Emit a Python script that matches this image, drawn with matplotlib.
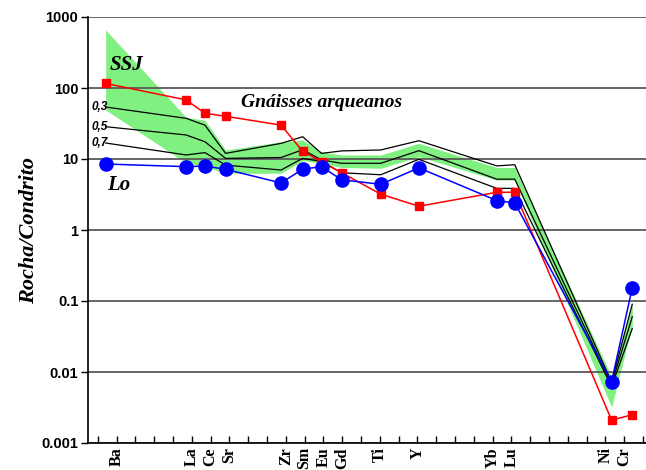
"""Spider diagram: chondrite-normalised trace elements, SSJ vs Lo vs Archean gneiss models."""

import matplotlib

matplotlib.use("Agg")
import matplotlib.pyplot as plt

ELEMENTS = ["Ba", "La", "Ce", "Sr", "Zr", "Sm", "Eu", "Gd", "Ti", "Y", "Yb", "Lu", "Ni", "Cr"]
# tick slot used for each element label, and where the points sit on the same axis
LABEL_SLOTS = [1, 5, 6, 7, 10, 11, 12, 13, 15, 17, 21, 22, 27, 28]
POINT_POS = [0.42, 4.7, 5.7, 6.8, 9.75, 10.9, 11.9, 12.97, 15.05, 17.08, 21.22, 22.18, 27.33, 28.43]

SSJ = [116, 68, 44, 40, 30, 12.8, 9.2, 6.4, 3.2, 2.16, 3.4, 3.4, 0.0021, 0.0025]
LO = [8.5, 7.8, 7.96, 7.16, 4.6, 7.2, 7.8, 5.1, 4.4, 7.5, 2.6, 2.4, 0.0073, 0.154]

# Archean gneiss field (upper / lower envelope)
GNEISS_UPPER = [656, 38.7, 35, 13.4, 17.5, 18.5, 12.6, 11.4, 11.4, 16.6, 7.6, 7.6, 0.0086, 0.09]
GNEISS_LOWER = [49, 8.8, 7.8, 6.3, 6.3, 9.5, 8.7, 7.6, 7.4, 10.8, 5.06, 5.06, 0.0032, 0.046]

# model curves for F = 0,3 / 0,5 / 0,7
MODEL_LABELS = ["0,3", "0,5", "0,7"]
MODEL_03 = [54, 37.4, 30, 12, 16.6, 20.6, 12, 13, 13.4, 18.1, 8.0, 8.3, 0.0072, 0.09]
MODEL_05 = [28.5, 21.8, 17.5, 10.2, 10.5, 13.5, 9.7, 8.7, 8.7, 13.1, 5.2, 5.2, 0.0067, 0.06]
MODEL_07 = [16.8, 11.4, 12.3, 8.2, 7.0, 10.2, 9.2, 6.4, 6.0, 9.9, 3.86, 3.86, 0.0062, 0.041]

Y_TICKS = [0.001, 0.01, 0.1, 1, 10, 100, 1000]
Y_TICK_LABELS = ["0.001", "0.01", "0.1", "1", "10", "100", "1000"]

SERIF = ["Liberation Serif", "DejaVu Serif"]
SANS = ["Liberation Sans", "DejaVu Sans"]


def main() -> int:
    fig = plt.figure(figsize=(6.46, 4.70), dpi=100)
    ax = fig.add_axes([88 / 646, 27 / 470, 1 - 88 / 646, 426 / 470])
    ax.set_yscale("log")
    ax.set_ylim(0.001, 1000)
    ax.set_xlim(-0.52, 29.16)

    ax.fill_between(POINT_POS, GNEISS_LOWER, GNEISS_UPPER, color="#80f080", linewidth=0, zorder=0.3)
    for values in (MODEL_03, MODEL_05, MODEL_07):
        ax.plot(POINT_POS, values, color="black", linewidth=0.9, zorder=2)
    ax.plot(POINT_POS, SSJ, color="#ff0000", linewidth=1.1, marker="s", markersize=6, zorder=3)
    ax.plot(POINT_POS, LO, color="#0000ff", linewidth=1.1, marker="o", markersize=9.5, zorder=3)

    for label, values in zip(MODEL_LABELS, (MODEL_03, MODEL_05, MODEL_07), strict=True):
        ax.text(POINT_POS[0] + 0.1, values[0], label, ha="right", va="center", fontsize=8.5,
                family=SANS, fontweight="bold", fontstyle="italic", clip_on=False)
    text_kw = dict(family=SERIF, fontweight="bold", fontstyle="italic", va="center")
    ax.text(0.65, 211, "SSJ", fontsize=15, **text_kw)
    ax.text(7.63, 61.5, "Gnáisses arqueanos", fontsize=14, **text_kw)
    ax.text(0.5, 4.3, "Lo", fontsize=15, **text_kw)

    ax.set_yticks(Y_TICKS, labels=Y_TICK_LABELS, family=SANS, fontweight="bold", fontsize=10.5)
    ax.yaxis.set_minor_locator(matplotlib.ticker.NullLocator())
    slot_labels = {slot: name for slot, name in zip(LABEL_SLOTS, ELEMENTS, strict=True)}
    ax.set_xticks(range(30), labels=[slot_labels.get(i, "") for i in range(30)], rotation=90,
                  family=SERIF, fontweight="bold", fontsize=11.5)
    ax.tick_params(axis="x", direction="in", length=5, width=1, pad=3)
    ax.tick_params(axis="y", direction="out", length=5, width=1, pad=2)

    ax.set_ylabel("Rocha/Condrito", family=SERIF, fontweight="bold", fontstyle="italic", fontsize=16, labelpad=2)
    ax.yaxis.grid(True, color="#5a5a5a", linewidth=1.3)
    ax.set_axisbelow(True)
    for side in ("top", "right"):
        ax.spines[side].set_visible(False)
    for side in ("left", "bottom"):
        ax.spines[side].set_linewidth(1.2)

    fig.savefig("out.png", dpi=100)
    plt.close(fig)
    return 0


if __name__ == "__main__":
    raise SystemExit(main())
